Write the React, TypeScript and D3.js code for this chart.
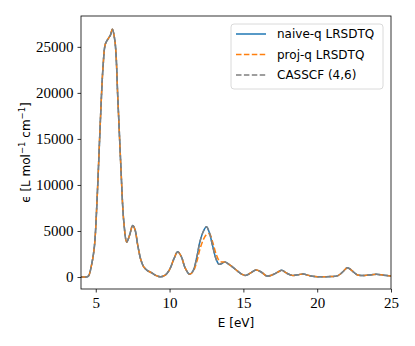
import React, { useEffect, useRef } from "react";
import * as d3 from "d3";

const energy = [
  4.0, 4.25, 4.5, 4.7, 4.9, 5.1, 5.3, 5.5, 5.65, 5.85, 6.0, 6.12, 6.3, 6.5, 6.7, 6.9,
  7.1, 7.3, 7.5, 7.65, 7.85, 8.05, 8.25, 8.5, 8.8, 9.1, 9.4, 9.7, 10.0, 10.3, 10.55,
  10.8, 11.05, 11.35, 11.6, 11.85, 12.05, 12.3, 12.5, 12.7, 12.9, 13.15, 13.35, 13.5,
  13.75, 14.0, 14.3, 14.6, 14.9, 15.15, 15.5, 15.85, 16.2, 16.6, 16.9, 17.3, 17.6,
  17.9, 18.3, 18.7, 19.05, 19.5, 20.0, 20.5, 21.0, 21.4, 21.7, 22.05, 22.35, 22.7,
  23.0, 23.5, 24.0, 24.5, 25.0,
];

const naiveQ = [
  0, 0, 100, 1200, 3200, 8800, 16500, 23000, 25300, 25900, 26300, 26900, 25600, 19200,
  12000, 6000, 3800, 4600, 5600, 5200, 3400, 1900, 1100, 700, 450, 150, 30, 200, 800,
  2000, 2750, 2200, 1000, 300, 700, 2200, 3800, 5000, 5450, 4800, 3500, 1950, 1380,
  1450, 1620, 1400, 1050, 650, 300, 180, 450, 760, 550, 110, 200, 500, 730, 450, 180,
  250, 330, 150, 40, 40, 60, 150, 500, 1020, 700, 250, 170, 220, 290, 200, 110,
];

const projQ = [
  0, 0, 100, 1200, 3200, 8800, 16500, 23000, 25300, 25900, 26300, 26900, 25600, 19200,
  12000, 6000, 3800, 4600, 5600, 5200, 3400, 1900, 1100, 700, 450, 150, 30, 200, 800,
  2000, 2750, 2200, 1000, 300, 600, 1700, 3000, 4100, 4600, 4700, 3900, 2500, 1800,
  1650, 1620, 1400, 1050, 650, 300, 180, 450, 760, 550, 110, 200, 500, 730, 450, 180,
  250, 330, 150, 40, 40, 60, 150, 500, 1020, 700, 250, 170, 220, 290, 200, 110,
];

const casscf = [
  0, 0, 100, 1200, 3200, 8800, 16500, 23000, 25300, 25900, 26300, 26900, 25600, 19200,
  12000, 6000, 3800, 4600, 5600, 5200, 3400, 1900, 1100, 700, 450, 150, 30, 200, 800,
  2000, 2750, 2200, 1000, 300, 700, 2200, 3800, 5000, 5450, 4800, 3500, 1950, 1380,
  1450, 1620, 1400, 1050, 650, 300, 180, 450, 760, 550, 110, 200, 500, 730, 450, 180,
  250, 330, 150, 40, 40, 60, 150, 500, 1020, 700, 250, 170, 220, 290, 200, 110,
];

const xTicks = [5, 10, 15, 20, 25];
const yTicks = [0, 5000, 10000, 15000, 20000, 25000];
const seriesNames = ["naive-q LRSDTQ", "proj-q LRSDTQ", "CASSCF (4,6)"];

const W = 415;
const H = 346;
const plot = { left: 81, right: 391, top: 16, bottom: 289 };
const tickFont = "'Liberation Serif', 'DejaVu Serif', serif";
const sansFont = "'DejaVu Sans', sans-serif";

const App = () => {
  const ref = useRef<SVGSVGElement>(null);

  useEffect(() => {
    const svg = d3.select(ref.current);
    svg.selectAll("*").remove();

    const x = d3.scaleLinear().domain([4, 25]).range([plot.left, plot.right]);
    const y = d3.scaleLinear().domain([-1300, 28350]).range([plot.bottom, plot.top]);

    //las tres series con su estilo
    const series = [
      { name: seriesNames[0], values: naiveQ, color: "#1f77b4", dash: null, offset: 0 },
      { name: seriesNames[1], values: projQ, color: "#ff7f0e", dash: "5.5,2.4", offset: 0 },
      { name: seriesNames[2], values: casscf, color: "#7f7f7f", dash: "5.5,2.4", offset: 4 },
    ];

    const line = d3
      .line<number>()
      .x((_, i) => x(energy[i]))
      .y((d) => y(d))
      .curve(d3.curveCatmullRom.alpha(0.5));

    svg
      .append("defs")
      .append("clipPath")
      .attr("id", "plotclip")
      .append("rect")
      .attr("x", plot.left)
      .attr("y", plot.top)
      .attr("width", plot.right - plot.left)
      .attr("height", plot.bottom - plot.top);

    const g = svg.append("g").attr("clip-path", "url(#plotclip)");
    series.forEach((s) => {
      g.append("path")
        .datum(s.values)
        .attr("d", line)
        .attr("fill", "none")
        .attr("stroke", s.color)
        .attr("stroke-width", 1.5)
        .attr("stroke-dasharray", s.dash)
        .attr("stroke-dashoffset", s.offset);
    });

    //ejes
    const xAxis = svg
      .append("g")
      .attr("transform", `translate(0,${plot.bottom})`)
      .call(d3.axisBottom(x).tickValues(xTicks).tickSize(3.5).tickPadding(5).tickFormat(d3.format("d")));
    const yAxis = svg
      .append("g")
      .attr("transform", `translate(${plot.left},0)`)
      .call(d3.axisLeft(y).tickValues(yTicks).tickSize(3.5).tickPadding(4).tickFormat(d3.format("d")));

    [xAxis, yAxis].forEach((a) => {
      a.select(".domain").remove();
      a.selectAll("line").attr("stroke", "#000").attr("stroke-width", 0.8);
      a.selectAll("text")
        .attr("fill", "#000")
        .style("font-family", tickFont)
        .style("font-size", "15px");
    });

    svg
      .append("rect")
      .attr("x", plot.left)
      .attr("y", plot.top)
      .attr("width", plot.right - plot.left)
      .attr("height", plot.bottom - plot.top)
      .attr("fill", "none")
      .attr("stroke", "#000")
      .attr("stroke-width", 0.8);

    //etiquetas de los ejes
    svg
      .append("text")
      .attr("x", (plot.left + plot.right) / 2)
      .attr("y", 327)
      .attr("text-anchor", "middle")
      .style("font-family", sansFont)
      .style("font-size", "12px")
      .text("E [eV]");

    const yl = svg
      .append("text")
      .attr("transform", `translate(30,${(plot.top + plot.bottom) / 2}) rotate(-90)`)
      .attr("text-anchor", "middle")
      .style("font-family", sansFont)
      .style("font-size", "12px");
    yl.append("tspan").text("ϵ [L mol");
    yl.append("tspan").attr("dy", -5).style("font-size", "8.5px").text("−1");
    yl.append("tspan").attr("dy", 5).text(" cm");
    yl.append("tspan").attr("dy", -5).style("font-size", "8.5px").text("−1");
    yl.append("tspan").attr("dy", 5).text("]");

    //leyenda
    const lg = svg.append("g");
    lg.append("rect")
      .attr("x", 231)
      .attr("y", 24)
      .attr("width", 152)
      .attr("height", 65)
      .attr("rx", 3)
      .attr("fill", "#fff")
      .attr("fill-opacity", 0.8)
      .attr("stroke", "#d0d0d0")
      .attr("stroke-width", 0.8);
    series.forEach((s, i) => {
      const yy = 34 + i * 20.5;
      lg.append("line")
        .attr("x1", 236)
        .attr("x2", 266)
        .attr("y1", yy)
        .attr("y2", yy)
        .attr("stroke", s.color)
        .attr("stroke-width", 1.5)
        .attr("stroke-dasharray", s.dash);
      lg.append("text")
        .attr("x", 277)
        .attr("y", yy)
        .attr("dominant-baseline", "central")
        .style("font-family", sansFont)
        .style("font-size", "12px")
        .text(s.name);
    });
  }, []);

  return (
    <svg
      ref={ref}
      width={W}
      height={H}
      style={{ position: "absolute", left: 0, top: 0, background: "#fff" }}
    />
  );
};

export default App;
